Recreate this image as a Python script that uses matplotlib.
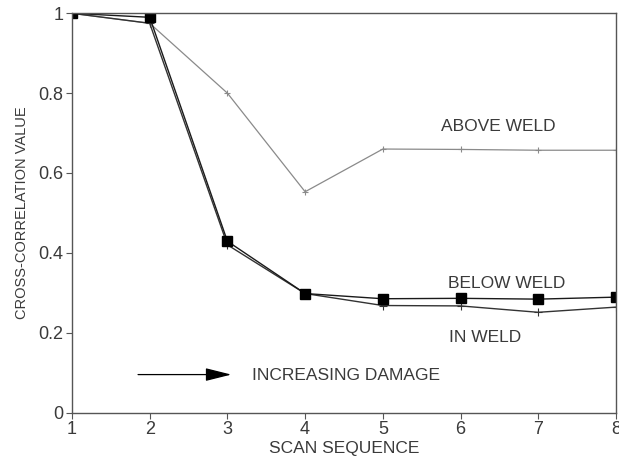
import numpy as np
from matplotlib import pyplot as plt

plt.rcParams['font.family'] = ['Liberation Sans', 'DejaVu Sans']

scan = [1, 2, 3, 4, 5, 6, 7, 8]
above_weld = [1.0, 0.975, 0.80, 0.553, 0.660, 0.659, 0.657, 0.657]
below_weld = [1.0, 0.99, 0.429, 0.298, 0.285, 0.286, 0.284, 0.289]
in_weld = [1.0, 0.975, 0.42, 0.298, 0.268, 0.267, 0.251, 0.264]

x_ticks = [1, 2, 3, 4, 5, 6, 7, 8]
y_ticks = [0, 0.2, 0.4, 0.6, 0.8, 1]
y_tick_labels = ['0', '0.2', '0.4', '0.6', '0.8', '1']

txt = '#3a3a3a'
axc = '#555555'
fs = 12.5

fig = plt.figure(figsize=(6.19, 4.59), dpi=100)
ax = fig.add_axes([0.1163, 0.1013, 0.8788, 0.8697])

ax.plot(scan, above_weld, color='#8a8a8a', lw=0.9, marker='+', ms=4, mew=0.8)
ax.plot(scan, in_weld, color='#333333', lw=1.0, marker='+', ms=6, mew=0.8)
ax.plot(scan, below_weld, color='#1a1a1a', lw=1.0, marker='s', ms=6.5,
        mfc='black', mec='black')

ax.set_xlim(1, 8)
ax.set_ylim(0, 1)
ax.set_xticks(x_ticks)
ax.set_yticks(y_ticks)
ax.set_yticklabels(y_tick_labels)
ax.tick_params(direction='out', length=4, width=0.8, color=axc,
               labelcolor=txt, labelsize=13, pad=2)
for s in ax.spines.values():
    s.set_color(axc)
    s.set_linewidth(1.0)

ax.set_xlabel('SCAN SEQUENCE', fontsize=fs, color=txt, labelpad=2)
ax.set_ylabel('CROSS-CORRELATION VALUE', fontsize=10.5, color=txt, labelpad=7)

ax.text(6.48, 0.717, 'ABOVE WELD', fontsize=fs, color=txt,
        ha='center', va='center')
ax.text(6.6, 0.322, 'BELOW WELD', fontsize=fs, color=txt,
        ha='center', va='center')
ax.text(6.31, 0.188, 'IN WELD', fontsize=fs, color=txt,
        ha='center', va='center')
ax.text(3.31, 0.093, 'INCREASING DAMAGE', fontsize=fs, color=txt,
        ha='left', va='center')
ax.annotate('', xy=(3.05, 0.095), xytext=(1.85, 0.095),
            arrowprops=dict(arrowstyle='-|>,head_length=1.6,head_width=0.4',
                            color='black', lw=0.9, shrinkA=0, shrinkB=0))

plt.savefig('out.png')
